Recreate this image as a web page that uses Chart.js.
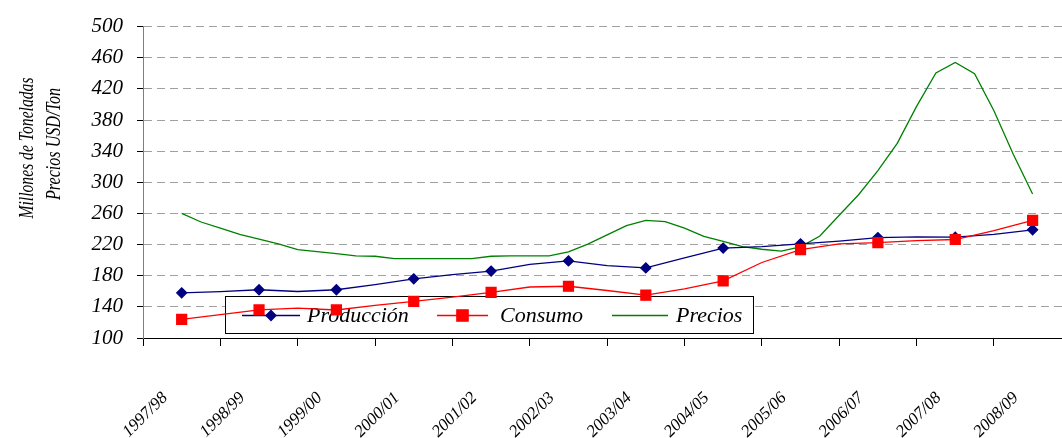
<!DOCTYPE html>
<html>
<head>
<meta charset="utf-8">
<script src="https://cdn.jsdelivr.net/npm/chart.js@4.4.1/dist/chart.umd.min.js"></script>
<style>
  html, body { margin: 0; padding: 0; background: #fff; overflow: hidden; }
  canvas { display: block; }
</style>
</head>
<body>
<canvas id="myChart" width="1062" height="438"></canvas>
<script>
var years = ['1997/98', '1998/99', '1999/00', '2000/01', '2001/02', '2002/03',
             '2003/04', '2004/05', '2005/06', '2006/07', '2007/08', '2008/09'];

// valores anuales (con marcador)
var produccion = [158, 162, 162, 176, 186, 199, 190, 215.5, 221, 229, 229.5, 239];
var consumo    = [124, 136, 136, 147, 158.5, 166.5, 155, 173.5, 213.5, 222.5, 226.5, 251];

// valores entre campañas (sin marcador)
var produccionEntre = [159.5, 159.7, 168.5, 181.5, 194.5, 193, 203, 217.5, 224.5, 230, 233];
var consumoEntre    = [130, 138.5, 142, 152.5, 165.5, 161, 163, 197, 221, 225, 238];

// precios trimestrales, desde el medio de 1997/98 hasta el medio de 2008/09
var precios = [260, 249, 241, 233, 227, 221, 213.5, 211, 208.5, 205.5, 205, 202,
               202, 202, 202, 202, 205, 205.4, 205.4, 205.5, 210.5, 220.6, 232.4, 244.3,
               251, 249.5, 241, 230.5, 224, 217.5, 214, 211.6, 217, 231, 257.7, 284,
               315, 350, 397.5, 440.5, 454, 439.5, 392, 336, 285];

var yTicks = [100, 500, 40];
var tituloEje = ['Millones de Toneladas', 'Precios USD/Ton'];

var serif = "'Liberation Serif', 'Times New Roman', serif";

function conEntre(vals, entre) {
  var pts = [];
  for (var i = 0; i < vals.length; i++) {
    pts.push({ x: i + 0.5, y: vals[i] });
    if (i < entre.length) pts.push({ x: i + 1, y: entre[i] });
  }
  return pts;
}

var preciosPts = precios.map(function (v, i) { return { x: 0.5 + i * 0.25, y: v }; });

var leyenda = {
  id: 'leyenda',
  beforeDatasetsDraw: function (chart) {
    var ctx = chart.ctx;
    ctx.save();
    ctx.fillStyle = '#fff';
    ctx.fillRect(225.5, 296.5, 528, 37);
    ctx.strokeStyle = '#000';
    ctx.lineWidth = 1;
    ctx.strokeRect(225.5, 296.5, 528, 37);

    var items = [[0, 242, 300, 307], [1, 437, 488, 500], [2, 612, 668, 676]];
    var y = 315.5;
    items.forEach(function (it) {
      var ds = chart.data.datasets[it[0]];
      ctx.strokeStyle = ds.borderColor;
      ctx.lineWidth = 1.3;
      ctx.beginPath();
      ctx.moveTo(it[1], y);
      ctx.lineTo(it[2], y);
      ctx.stroke();
      if (ds.pointStyle) {
        ctx.fillStyle = ds.pointBackgroundColor;
        ctx.strokeStyle = ds.pointBorderColor;
        Chart.helpers.drawPoint(ctx, { pointStyle: ds.pointStyle, radius: ds.legendRadius, rotation: 0, borderWidth: 1 },
          (it[1] + it[2]) / 2, y);
      }
      ctx.fillStyle = '#000';
      ctx.font = 'italic 22px ' + serif;
      ctx.textAlign = 'left';
      ctx.textBaseline = 'middle';
      ctx.fillText(ds.label, it[3], y + 1);
    });
    ctx.restore();
  }
};

var tituloY = {
  id: 'tituloY',
  afterDraw: function (chart) {
    var ctx = chart.ctx;
    ctx.save();
    ctx.fillStyle = '#000';
    ctx.font = 'italic 20px ' + serif;
    ctx.textAlign = 'center';
    ctx.textBaseline = 'alphabetic';
    [[tituloEje[0], 33, 148, 141], [tituloEje[1], 60, 144, 112]].forEach(function (t) {
      ctx.save();
      ctx.translate(t[1], t[2]);
      ctx.rotate(-Math.PI / 2);
      var w = ctx.measureText(t[0]).width;
      ctx.scale(t[3] / w, 1);
      ctx.fillText(t[0], 0, 0);
      ctx.restore();
    });
    ctx.restore();
  }
};

var ctx = document.getElementById('myChart').getContext('2d');

var myChart = new Chart(ctx, {
  type: 'line',
  data: {
    datasets: [
      {
        label: 'Producción',
        data: conEntre(produccion, produccionEntre),
        borderColor: '#000080',
        borderWidth: 1.3,
        pointStyle: 'rectRot',
        pointBackgroundColor: '#000080',
        pointBorderColor: '#000080',
        pointRadius: function (c) { return c.index % 2 === 0 ? 5 : 0; },
        legendRadius: 5,
        tension: 0,
        order: 2
      },
      {
        label: 'Consumo',
        data: conEntre(consumo, consumoEntre),
        borderColor: '#ff0000',
        borderWidth: 1.3,
        pointStyle: 'rect',
        pointBackgroundColor: '#ff0000',
        pointBorderColor: '#ff0000',
        pointRadius: function (c) { return c.index % 2 === 0 ? 7 : 0; },
        legendRadius: 8,
        tension: 0,
        order: 1
      },
      {
        label: 'Precios',
        data: preciosPts,
        borderColor: '#008000',
        borderWidth: 1.3,
        pointRadius: 0,
        tension: 0,
        order: 3
      }
    ]
  },
  options: {
    responsive: false,
    animation: false,
    layout: { autoPadding: false, padding: { top: 25, right: 0, left: 0, bottom: 0 } },
    plugins: { legend: { display: false }, tooltip: { enabled: false } },
    scales: {
      x: {
        type: 'linear',
        min: 0,
        max: 11.88,
        afterBuildTicks: function (s) { s.ticks = years.map(function (y, i) { return { value: i }; }); },
        afterFit: function (s) { s.height = 100; },
        grid: { drawOnChartArea: false, drawTicks: true, tickLength: 8, tickColor: '#000' },
        border: { color: '#000', width: 1 },
        ticks: {
          autoSkip: false,
          minRotation: 45,
          maxRotation: 45,
          padding: 42,
          labelOffset: 22,
          color: '#000',
          font: { family: serif, style: 'italic', size: 17 },
          callback: function (v) { return years[v]; }
        }
      },
      y: {
        min: yTicks[0],
        max: yTicks[1],
        afterFit: function (s) { s.width = 143; },
        grid: {
          color: function (c) { return c.tick && c.tick.value === yTicks[0] ? 'rgba(0,0,0,0)' : '#a0a0a0'; },
          tickColor: '#000',
          tickLength: 6
        },
        border: { color: '#7f7f7f', width: 1, dash: [8, 5] },
        ticks: {
          stepSize: yTicks[2],
          padding: 14,
          color: '#000',
          font: { family: serif, style: 'italic', size: 21 }
        }
      }
    }
  },
  plugins: [leyenda, tituloY]
});
</script>
</body>
</html>
